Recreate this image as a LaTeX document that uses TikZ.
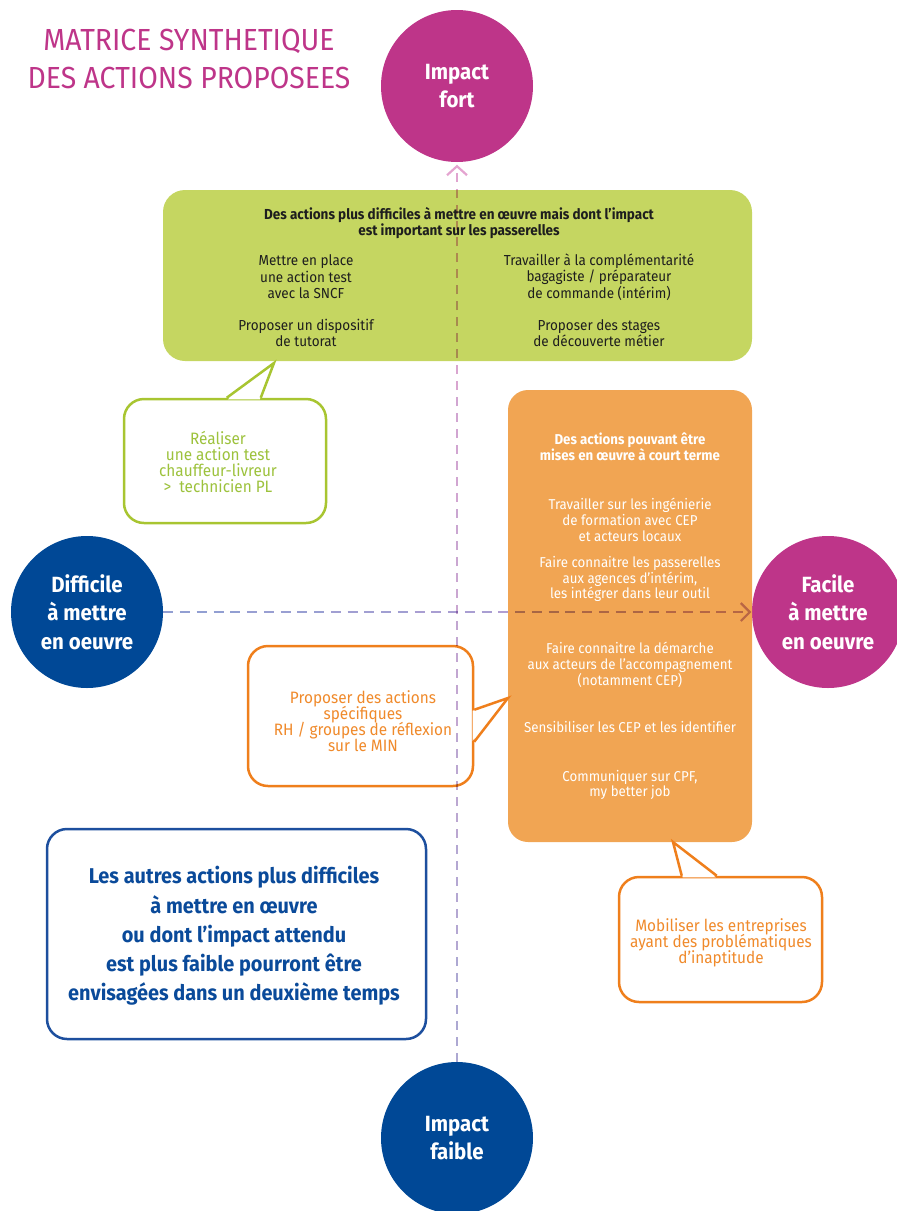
\documentclass[tikz,border=0pt]{standalone}
\usepackage{fontspec}
\setmainfont{Fira Sans}[FakeStretch=0.93]
\usetikzlibrary{calc}
\definecolor{cmag}{HTML}{BE3589}
\definecolor{cnavy}{HTML}{004896}
\definecolor{cgreenfill}{HTML}{C5D661}
\definecolor{cgreenline}{HTML}{A8C531}
\definecolor{cgreentext}{HTML}{9DC23C}
\definecolor{corangefill}{HTML}{F1A553}
\definecolor{corangeline}{HTML}{EF7F1C}
\definecolor{corangetext}{HTML}{F08A2B}
\definecolor{cblueline}{HTML}{1D4F9E}
\definecolor{cbluetext}{HTML}{0A4A9A}
\definecolor{cdark}{HTML}{1E1E1E}
\definecolor{vbot}{HTML}{A9A8D2}
\definecolor{vtop}{HTML}{E4A4D0}
\definecolor{hleft}{HTML}{8E9FD2}
\definecolor{hright}{HTML}{C49ED2}
\newcommand{\tightlines}{\setlength{\lineskiplimit}{-20pt}}
\begin{document}
\begin{tikzpicture}[x=1pt,y=-1pt,
  circ/.style={circle,inner sep=0pt,minimum size=152pt,text=white,align=center,
    font={\bfseries\fontsize{22}{28.5}\selectfont}},
  gtxt/.style={text=cdark,align=center,inner sep=0pt,font={\fontsize{14.5}{16.4}\selectfont\tightlines}},
  gtitle/.style={text=cdark,align=center,inner sep=0pt,font={\bfseries\fontsize{14.5}{16.5}\selectfont\tightlines}},
  otxt/.style={text=white,align=center,inner sep=0pt,font={\fontsize{14.3}{15.8}\selectfont\tightlines}},
  otitle/.style={text=white,align=center,inner sep=0pt,font={\bfseries\fontsize{14.3}{16}\selectfont\tightlines}},
  callbox/.style={draw,line width=2.5pt,fill=white,rounded corners=20pt,inner sep=0pt},
  calltxt/.style={align=center,inner sep=0pt,font={\fontsize{16.5}{16}\selectfont\tightlines}},
  tailline/.style={line width=2.5pt,line join=miter},
  vdash/.style={line width=2.2pt,dash pattern=on 9pt off 7pt},
  hdash/.style={line width=2.2pt,dash pattern=on 10pt off 6.77pt},
]
\useasboundingbox (0,0) rectangle (897,1211);

% title
\node[font={\fontsize{30.5}{38}\selectfont},text=cmag,align=center,inner sep=0pt] (title) at (189,59) {MATRICE SYNTHETIQUE\\DES ACTIONS PROPOSEES};

% circles
\node[circ,fill=cmag] (fort) at (457,86) {Impact\\fort};
\node[circ,fill=cnavy] (difficile) at (87,612) {Difficile\\à mettre\\en oeuvre};
\node[circ,fill=cmag] (facile) at (828,612) {Facile\\à mettre\\en oeuvre};
\node[circ,fill=cnavy] (faible) at (457,1138) {Impact\\faible};

% green box
\node[fill=cgreenfill,rounded corners=22pt,minimum width=589pt,minimum height=171pt,inner sep=0pt] (gbox) at (457.5,275.5) {};
\node[gtitle] (gt) at (459,223) {Des actions plus difficiles à mettre en œuvre mais dont l’impact\\est important sur les passerelles};
\node[gtxt] (g1) at (306,277) {Mettre en place\\une action test\\avec la SNCF};
\node[gtxt] (g2) at (306,333) {Proposer un dispositif\\de tutorat};
\node[gtxt] (g3) at (599,277) {Travailler à la complémentarité\\bagagiste / préparateur\\de commande (intérim)};
\node[gtxt] (g4) at (599,333) {Proposer des stages\\de découverte métier};

% orange box
\node[fill=corangefill,rounded corners=20pt,minimum width=244pt,minimum height=452pt,inner sep=0pt] (obox) at (630,616) {};
\node[otitle] (ot) at (630,447) {Des actions pouvant être\\mises en œuvre à court terme};
\node[otxt] (o1) at (630,520) {Travailler sur les ingénierie\\de formation avec CEP\\et acteurs locaux};
\node[otxt] (o2) at (630,579) {Faire connaitre les passerelles\\aux agences d’intérim,\\les intégrer dans leur outil};
\node[otxt] (o3) at (630,665) {Faire connaitre la démarche\\aux acteurs de l’accompagnement\\(notamment CEP)};
\node[otxt] (o4) at (630,727) {Sensibiliser les CEP et les identifier};
\node[otxt] (o5) at (630,785) {Communiquer sur CPF,\\my better job};

% green callout
\node[callbox,draw=cgreenline,minimum width=202pt,minimum height=124pt] (gcall) at (225,461) {};
\coordinate (gtip) at (274,363);
\fill[white] ($(gcall.north west)+(105,1.6)$) -- (gtip) -- ($(gcall.north west)+(137,1.6)$) -- cycle;
\draw[tailline,cgreenline] ($(gcall.north west)+(104,0)$) -- (gtip) -- ($(gcall.north west)+(138,0)$);
\node[calltxt,text=cgreentext] (gct) at (218,462) {Réaliser\\une action test\\chauffeur-livreur\\>\ \ technicien PL};

% orange callout (left)
\node[callbox,draw=corangeline,minimum width=225pt,minimum height=140pt] (ocall) at (360.5,716) {};
\coordinate (otip) at (508,698);
\fill[white] ($(ocall.north east)+(-1.6,66)$) -- (otip) -- ($(ocall.north east)+(-1.6,96)$) -- cycle;
\draw[tailline,corangeline] ($(ocall.north east)+(0,65)$) -- (otip) -- ($(ocall.north east)+(0,97)$);
\node[calltxt,text=corangetext] (oct) at (363,721) {Proposer des actions\\spécifiques\\RH / groupes de réflexion\\sur le MIN};

% orange callout (bottom right)
\node[callbox,draw=corangeline,minimum width=203pt,minimum height=125pt] (bcall) at (720.5,939.5) {};
\coordinate (btip) at (673,842);
\fill[white] ($(bcall.north west)+(65,1.6)$) -- (btip) -- ($(bcall.north west)+(98,1.6)$) -- cycle;
\draw[tailline,corangeline] ($(bcall.north west)+(64,0)$) -- (btip) -- ($(bcall.north west)+(99,0)$);
\node[calltxt,text=corangetext] (bct) at (721,943) {Mobiliser les entreprises\\ayant des problématiques\\d’inaptitude};

% blue box
\node[draw=cblueline,line width=2.5pt,rounded corners=20pt,minimum width=379pt,minimum height=210pt,inner sep=0pt,fill=white] (bbox) at (236.5,934) {};
\node[text=cbluetext,align=center,inner sep=0pt,font={\bfseries\fontsize{21.4}{29.3}\selectfont}] (bt) at (234,936) {Les autres actions plus difficiles\\à mettre en œuvre\\ou dont l’impact attendu\\est plus faible pourront être\\envisagées dans un deuxième temps};

% dashed axes
\begin{scope}[blend mode=multiply]
\coordinate (vs) at (faible.north);
\coordinate (ve) at ($(fort.south)+(0,4)$);
\foreach \i in {0,...,7}{
  \pgfmathtruncatemacro{\p}{100*(\i+0.5)/8}
  \draw[vdash,draw=vtop!\p!vbot] ($(vs)!{\i/8}!(ve)$) -- ($(vs)!{(\i+1)/8}!(ve)$);
}
\draw[line width=2.2pt,vtop,line join=miter] ($(ve)+(-10,9)$) -- (ve) -- ($(ve)+(10,9)$);
\coordinate (hs) at (difficile.east);
\coordinate (he) at ($(facile.west)+(-2,0)$);
\foreach \i in {0,...,6}{
  \pgfmathtruncatemacro{\p}{100*(\i+0.5)/7}
  \draw[hdash,draw=hright!\p!hleft] ($(hs)!{\i/7}!(he)$) -- ($(hs)!{(\i+1)/7}!(he)$);
}
\draw[line width=2.2pt,hright,line join=miter] ($(he)+(-9,-9)$) -- (he) -- ($(he)+(-9,9)$);
\end{scope}
\end{tikzpicture}
\end{document}
